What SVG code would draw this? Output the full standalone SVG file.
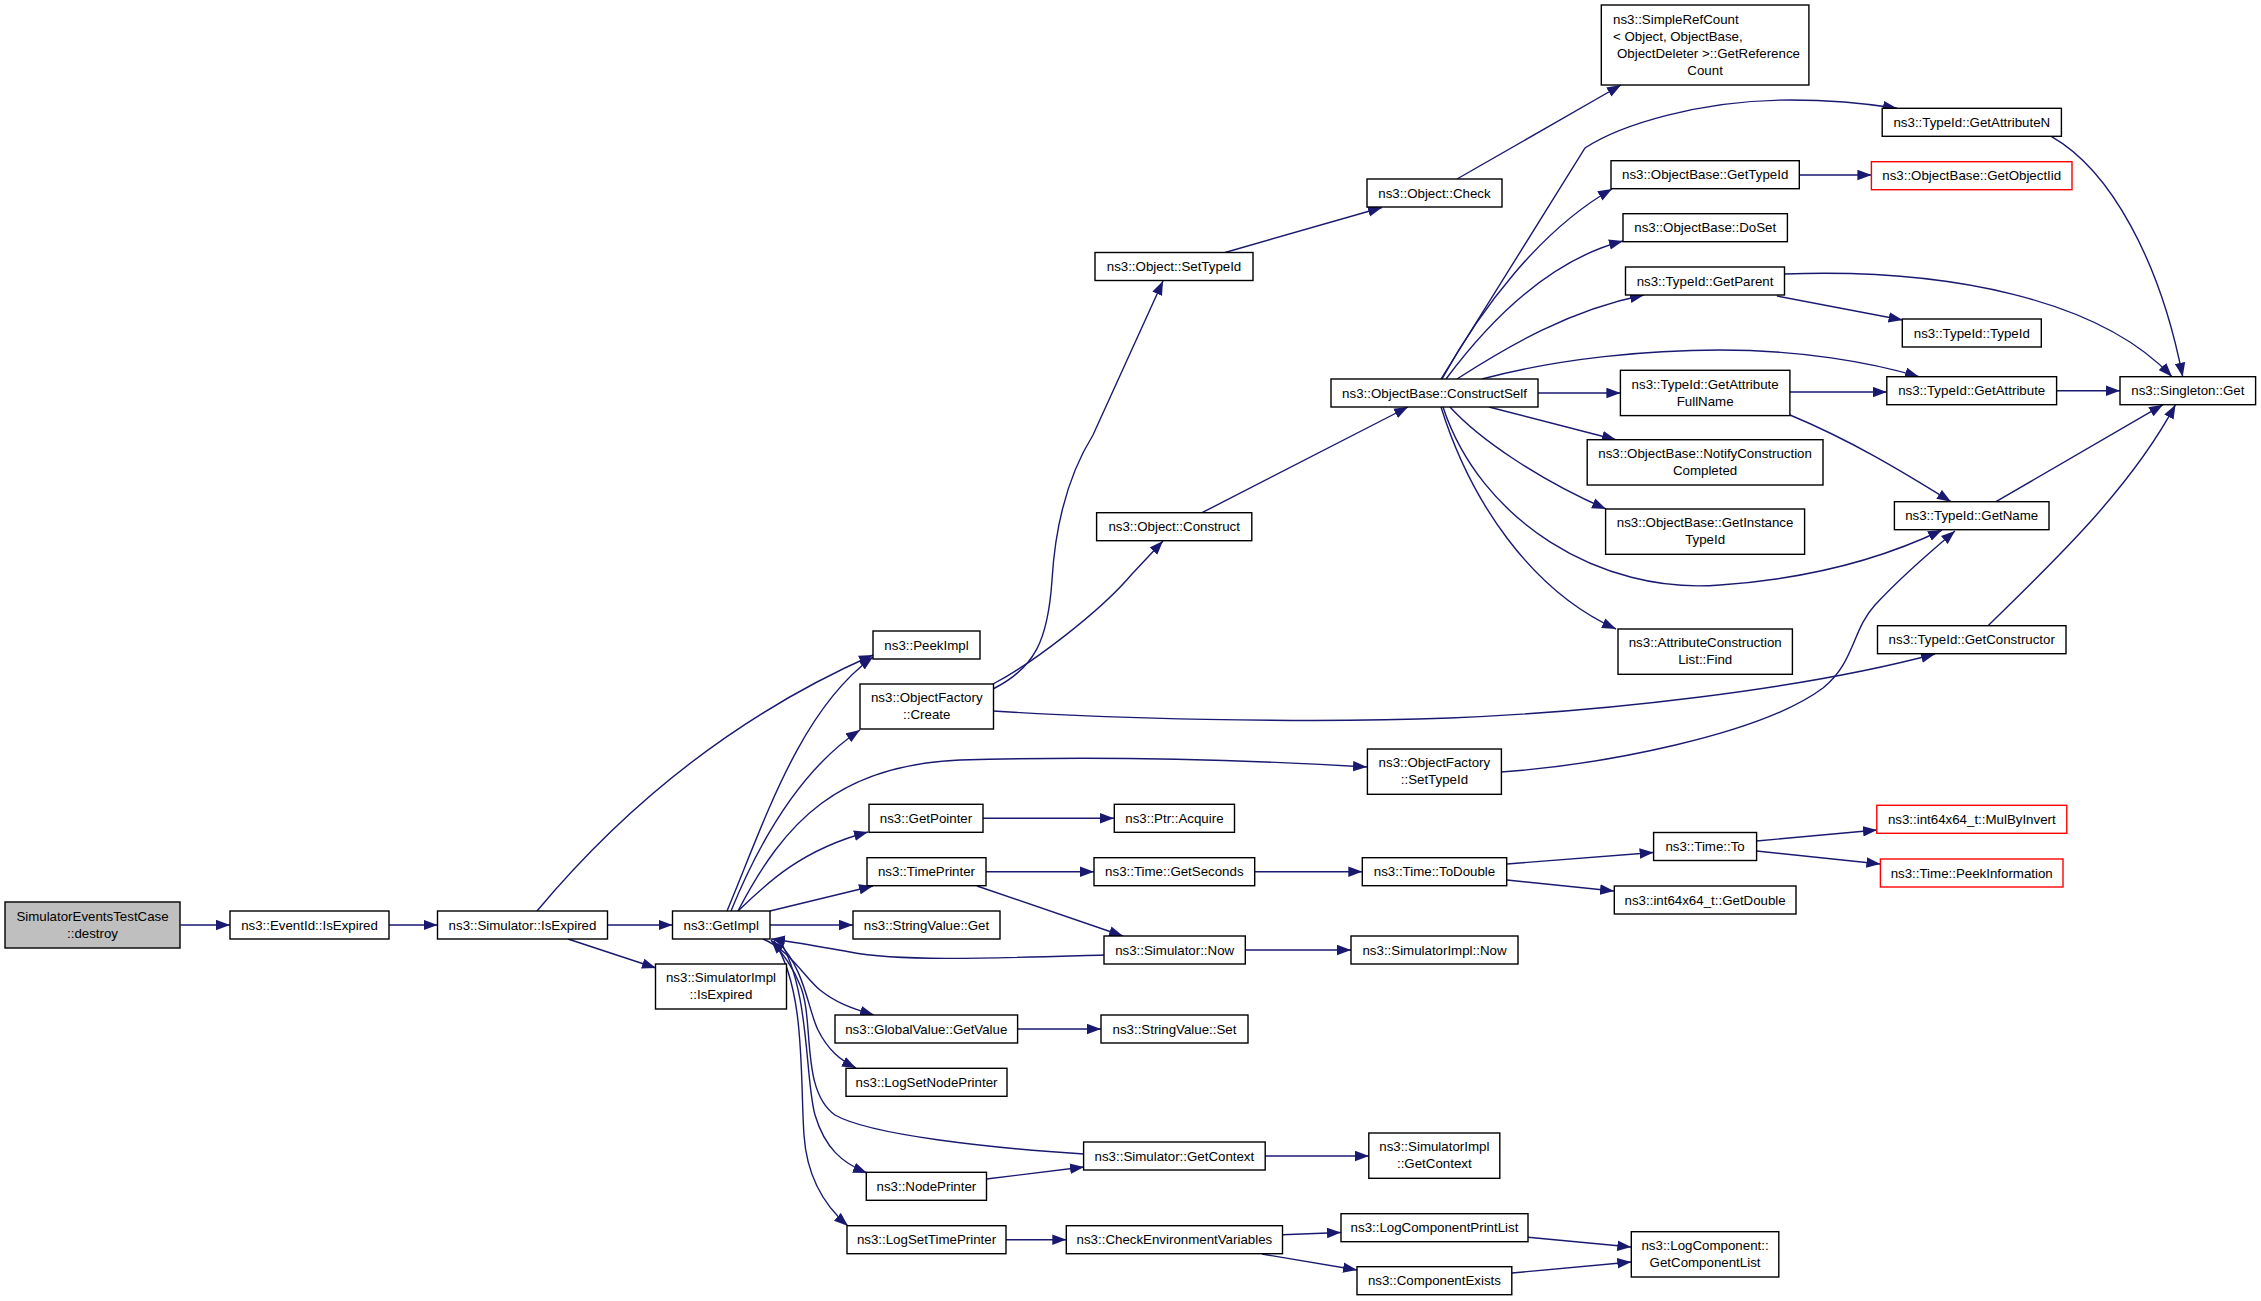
<svg xmlns="http://www.w3.org/2000/svg" width="2261" height="1301" viewBox="0 0 2261 1301">
<style>
.n rect{fill:#fff;stroke:#000;stroke-width:1.4}
.n.r rect{stroke:#f00}
.n.g rect{fill:#bfbfbf}
text{font-family:"Liberation Sans",Arial,Helvetica,sans-serif;font-size:13.3px;fill:#000;text-anchor:middle}
text.s{text-anchor:start}
#edges path{fill:none;stroke:#191970;stroke-width:1.4;marker-end:url(#ah)}
</style>
<defs>
<marker id="ah" markerUnits="userSpaceOnUse" markerWidth="14" markerHeight="11" refX="14" refY="5.25" orient="auto" viewBox="0 0 14 10.5">
<path d="M0,0 L14,5.25 L0,10.5 z" fill="#191970"/>
</marker>
</defs>
<rect width="2261" height="1301" fill="#fff"/>
<g id="edges">
<path d="M180.5,925 L230,925"/>
<path d="M389,925 L437.5,925"/>
<path d="M607.5,925 L672.5,925"/>
<path d="M568,939 L656,968"/>
<path d="M537,911 Q680,740 873,655"/>
<path d="M727,911 C765,820 800,710 873,657"/>
<path d="M731,911 C760,840 800,770 860,730"/>
<path d="M738,911 C785,820 840,765 960,760 C1100,756 1250,760 1367,767"/>
<path d="M738,911 C765,885 800,850 868,832"/>
<path d="M770,911 L873,886"/>
<path d="M770,925 L853,925"/>
<path d="M763,939 C790,950 805,978 820,990 C835,1002 850,1008 874,1015"/>
<path d="M777,941 C805,968 808,1010 818,1030 C828,1050 840,1060 856,1068"/>
<path d="M780,941 C810,990 805,1080 815,1115 C825,1148 842,1163 867,1173"/>
<path d="M774,941 C806,990 800,1080 804,1135 C807,1180 826,1207 848,1226"/>
<path d="M1104,955 C1000,958 900,962 850,952 C815,946 795,942 771,939"/>
<path d="M1084,1154 C990,1148 870,1135 835,1115 C800,1090 815,1020 800,985 C792,965 782,952 771,940"/>
<path d="M986,871.7 L1094,871.7"/>
<path d="M977,886 L1123,936"/>
<path d="M983,818.3 L1114,818.3"/>
<path d="M1017.6,1029 L1101,1029"/>
<path d="M986.5,1179 L1084,1167"/>
<path d="M1006,1239.7 L1066.3,1239.7"/>
<path d="M1265,1156 L1369,1156"/>
<path d="M1245,950 L1351,950"/>
<path d="M1254.7,871.7 L1362.3,871.7"/>
<path d="M1507,864 L1653.6,852.5"/>
<path d="M1507,880 L1614,891"/>
<path d="M1756.5,841 L1877,830"/>
<path d="M1756.5,851 L1880.4,864"/>
<path d="M1282.5,1234.7 L1341,1232.5"/>
<path d="M1262,1254 L1357,1270"/>
<path d="M1528,1237.3 L1631.3,1247"/>
<path d="M1512,1273 L1631.3,1262"/>
<path d="M993,689 C1035,668 1048,640 1052,580 C1055,530 1065,480 1093,435 L1163,281"/>
<path d="M993,684 C1030,665 1100,612 1132,574 L1163,541"/>
<path d="M993,711 C1100,718 1300,724 1450,718 C1600,712 1800,690 1935,654"/>
<path d="M1225,252.5 L1382,207.5"/>
<path d="M1457,179 L1621,85"/>
<path d="M1202,512.7 L1408,407"/>
<path d="M1441,379 L1585,148 C1620,125 1700,100 1790,100 C1840,100 1870,104 1897,108.3"/>
<path d="M1442,379 C1480,310 1540,230 1612,189"/>
<path d="M1446,379 C1490,320 1550,260 1623,241"/>
<path d="M1457,379 C1510,345 1570,310 1644,295"/>
<path d="M1482,379 C1560,358 1650,350 1720,350 C1800,350 1870,362 1919,376.7"/>
<path d="M1538,393 L1620.4,393"/>
<path d="M1489,407 L1616,439.7"/>
<path d="M1450,407 C1480,440 1540,480 1606,509"/>
<path d="M1443,407 C1480,520 1600,595 1720,585 C1820,578 1890,555 1942,530"/>
<path d="M1441,407 C1470,500 1530,590 1616,629"/>
<path d="M1799.3,175 L1871.4,175"/>
<path d="M1784.5,274 C1950,268 2100,300 2172,376.7"/>
<path d="M1777,296 L1902.6,320"/>
<path d="M2051.6,136.7 C2110,170 2160,260 2182.7,376.7"/>
<path d="M2056.6,390.7 L2120,390.7"/>
<path d="M1789.9,392 L1886.8,392"/>
<path d="M1790,415 C1850,440 1900,470 1951,501.7"/>
<path d="M1996,501.7 L2163,404.7"/>
<path d="M1988,625.7 C2050,565 2130,490 2175.5,404.7"/>
<path d="M1501,772 C1600,765 1760,735 1823,688 C1855,662 1852,630 1875,605 C1900,578 1930,552 1955,531"/>
</g>
<g id="n_root" class="n g"><rect x="5" y="902" width="175" height="46"/><text x="92.5" y="920.5">SimulatorEventsTestCase</text><text x="92.5" y="937.5">::destroy</text></g>
<g id="n_eventid" class="n"><rect x="230" y="911" width="159" height="28"/><text x="309.5" y="929.7">ns3::EventId::IsExpired</text></g>
<g id="n_simexp" class="n"><rect x="437.5" y="911" width="170" height="28"/><text x="522.5" y="929.7">ns3::Simulator::IsExpired</text></g>
<g id="n_getimpl" class="n"><rect x="672.5" y="911" width="97.5" height="28"/><text x="721.25" y="929.7">ns3::GetImpl</text></g>
<g id="n_simimplexp" class="n"><rect x="655.5" y="964" width="131" height="45"/><text x="721" y="982">ns3::SimulatorImpl</text><text x="721" y="999">::IsExpired</text></g>
<g id="n_peekimpl" class="n"><rect x="873" y="631" width="107" height="28"/><text x="926.5" y="649.7">ns3::PeekImpl</text></g>
<g id="n_ofcreate" class="n"><rect x="860" y="684" width="133.5" height="45"/><text x="926.75" y="702">ns3::ObjectFactory</text><text x="926.75" y="719">::Create</text></g>
<g id="n_getpointer" class="n"><rect x="869" y="804.3" width="114" height="28"/><text x="926" y="823">ns3::GetPointer</text></g>
<g id="n_timeprinter" class="n"><rect x="867" y="857.7" width="119" height="28"/><text x="926.5" y="876.4">ns3::TimePrinter</text></g>
<g id="n_svget" class="n"><rect x="853" y="911" width="147" height="28"/><text x="926.5" y="929.7">ns3::StringValue::Get</text></g>
<g id="n_gvgetvalue" class="n"><rect x="835" y="1015" width="182.6" height="28"/><text x="926.3" y="1033.7">ns3::GlobalValue::GetValue</text></g>
<g id="n_logsetnode" class="n"><rect x="846" y="1068.3" width="161" height="28"/><text x="926.5" y="1087">ns3::LogSetNodePrinter</text></g>
<g id="n_nodeprinter" class="n"><rect x="866.3" y="1172.3" width="120.2" height="28"/><text x="926.4" y="1191">ns3::NodePrinter</text></g>
<g id="n_logsettime" class="n"><rect x="847" y="1225.7" width="159" height="28"/><text x="926.5" y="1244.4">ns3::LogSetTimePrinter</text></g>
<g id="n_objsettypeid" class="n"><rect x="1095" y="252.5" width="158" height="28"/><text x="1174" y="271.2">ns3::Object::SetTypeId</text></g>
<g id="n_objconstruct" class="n"><rect x="1096.6" y="512.7" width="155.2" height="28"/><text x="1174.2" y="531.4">ns3::Object::Construct</text></g>
<g id="n_ptracquire" class="n"><rect x="1114.3" y="804.3" width="120.2" height="28"/><text x="1174.4" y="823">ns3::Ptr::Acquire</text></g>
<g id="n_getseconds" class="n"><rect x="1094" y="857.7" width="160.7" height="28"/><text x="1174.35" y="876.4">ns3::Time::GetSeconds</text></g>
<g id="n_simnow" class="n"><rect x="1104" y="936" width="141.3" height="28"/><text x="1174.65" y="954.7">ns3::Simulator::Now</text></g>
<g id="n_svset" class="n"><rect x="1101" y="1015" width="147" height="28"/><text x="1174.5" y="1033.7">ns3::StringValue::Set</text></g>
<g id="n_simgetctx" class="n"><rect x="1083.6" y="1142" width="181.6" height="28"/><text x="1174.4" y="1160.7">ns3::Simulator::GetContext</text></g>
<g id="n_checkenv" class="n"><rect x="1066.3" y="1225.7" width="216.2" height="28"/><text x="1174.4" y="1244.4">ns3::CheckEnvironmentVariables</text></g>
<g id="n_objcheck" class="n"><rect x="1367" y="179" width="135" height="28"/><text x="1434.5" y="197.7">ns3::Object::Check</text></g>
<g id="n_constructself" class="n"><rect x="1331" y="379" width="207" height="28"/><text x="1434.5" y="397.7">ns3::ObjectBase::ConstructSelf</text></g>
<g id="n_ofsettypeid" class="n"><rect x="1367.4" y="749" width="134" height="45.3"/><text x="1434.4" y="767.2">ns3::ObjectFactory</text><text x="1434.4" y="784.2">::SetTypeId</text></g>
<g id="n_todouble" class="n"><rect x="1362.3" y="857.7" width="144.4" height="28"/><text x="1434.5" y="876.4">ns3::Time::ToDouble</text></g>
<g id="n_simimplnow" class="n"><rect x="1351" y="936" width="167" height="28"/><text x="1434.5" y="954.7">ns3::SimulatorImpl::Now</text></g>
<g id="n_simimplctx" class="n"><rect x="1368.8" y="1133" width="131" height="45.3"/><text x="1434.3" y="1151.2">ns3::SimulatorImpl</text><text x="1434.3" y="1168.2">::GetContext</text></g>
<g id="n_logcompprint" class="n"><rect x="1341" y="1213.7" width="187" height="28"/><text x="1434.5" y="1232.4">ns3::LogComponentPrintList</text></g>
<g id="n_compexists" class="n"><rect x="1357" y="1266.7" width="154.8" height="28"/><text x="1434.4" y="1285.4">ns3::ComponentExists</text></g>
<g id="n_simplerefcount" class="n"><rect x="1601.3" y="5" width="207.6" height="80"/><text class="s" x="1613" y="23.5">ns3::SimpleRefCount</text><text class="s" x="1613" y="40.5">&lt; Object, ObjectBase,</text><text class="s" x="1617" y="57.5">ObjectDeleter &gt;::GetReference</text><text x="1705.1" y="74.5">Count</text></g>
<g id="n_obgettypeid" class="n"><rect x="1611" y="160.7" width="188.3" height="28"/><text x="1705.15" y="179.4">ns3::ObjectBase::GetTypeId</text></g>
<g id="n_obdoset" class="n"><rect x="1623" y="213.7" width="164.4" height="28"/><text x="1705.2" y="232.4">ns3::ObjectBase::DoSet</text></g>
<g id="n_getparent" class="n"><rect x="1625.5" y="267" width="159" height="28"/><text x="1705" y="285.7">ns3::TypeId::GetParent</text></g>
<g id="n_getattrfull" class="n"><rect x="1620.4" y="370.3" width="169.5" height="45.3"/><text x="1705.15" y="388.5">ns3::TypeId::GetAttribute</text><text x="1705.15" y="405.5">FullName</text></g>
<g id="n_notify" class="n"><rect x="1587.2" y="439.7" width="235.8" height="45.3"/><text x="1705.1" y="457.9">ns3::ObjectBase::NotifyConstruction</text><text x="1705.1" y="474.9">Completed</text></g>
<g id="n_getinst" class="n"><rect x="1605.6" y="509" width="199" height="45.3"/><text x="1705.1" y="527.2">ns3::ObjectBase::GetInstance</text><text x="1705.1" y="544.2">TypeId</text></g>
<g id="n_acfind" class="n"><rect x="1618" y="629" width="174.4" height="45.3"/><text x="1705.2" y="647.2">ns3::AttributeConstruction</text><text x="1705.2" y="664.2">List::Find</text></g>
<g id="n_timeto" class="n"><rect x="1653.6" y="832.5" width="103" height="28"/><text x="1705.1" y="851.2">ns3::Time::To</text></g>
<g id="n_getdouble" class="n"><rect x="1614.3" y="886" width="181.7" height="28"/><text x="1705.15" y="904.7">ns3::int64x64_t::GetDouble</text></g>
<g id="n_getcomplist" class="n"><rect x="1631.3" y="1231.7" width="147.5" height="45.3"/><text x="1705.05" y="1249.9">ns3::LogComponent::</text><text x="1705.05" y="1266.9">GetComponentList</text></g>
<g id="n_getattrn" class="n"><rect x="1882.2" y="108.3" width="179.2" height="28"/><text x="1971.8" y="127">ns3::TypeId::GetAttributeN</text></g>
<g id="n_getobjectiid" class="n r"><rect x="1871.4" y="161.7" width="200.6" height="28"/><text x="1971.7" y="180.4">ns3::ObjectBase::GetObjectIid</text></g>
<g id="n_typeidtypeid" class="n"><rect x="1902.3" y="319" width="139" height="28"/><text x="1971.8" y="337.7">ns3::TypeId::TypeId</text></g>
<g id="n_getattr" class="n"><rect x="1886.8" y="376.7" width="169.8" height="28"/><text x="1971.7" y="395.4">ns3::TypeId::GetAttribute</text></g>
<g id="n_getname" class="n"><rect x="1894.4" y="501.7" width="154.6" height="28"/><text x="1971.7" y="520.4">ns3::TypeId::GetName</text></g>
<g id="n_getctor" class="n"><rect x="1877.5" y="625.7" width="188.5" height="28"/><text x="1971.75" y="644.4">ns3::TypeId::GetConstructor</text></g>
<g id="n_mulbyinv" class="n r"><rect x="1876.8" y="805.3" width="190" height="28"/><text x="1971.8" y="824">ns3::int64x64_t::MulByInvert</text></g>
<g id="n_peekinfo" class="n r"><rect x="1880.4" y="859" width="182.6" height="28"/><text x="1971.7" y="877.7">ns3::Time::PeekInformation</text></g>
<g id="n_singleton" class="n"><rect x="2120" y="376.7" width="135.6" height="28"/><text x="2187.8" y="395.4">ns3::Singleton::Get</text></g>
</svg>
